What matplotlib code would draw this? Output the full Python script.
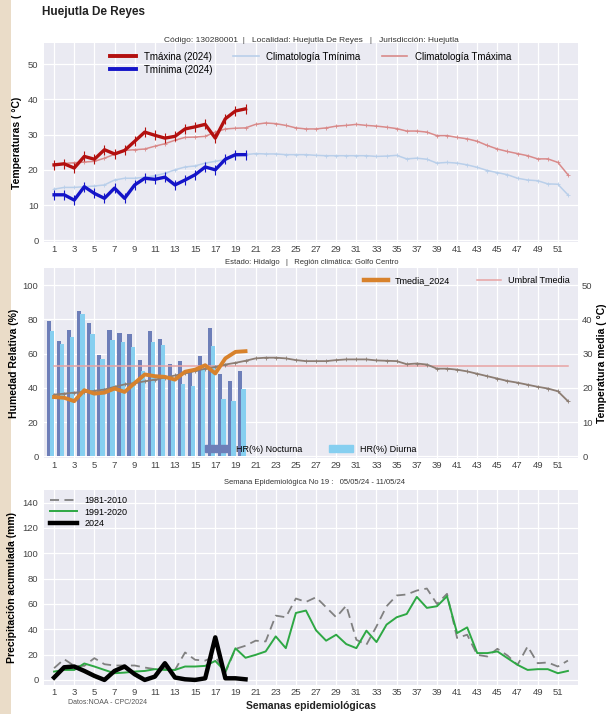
import matplotlib
matplotlib.use("Agg")
import matplotlib.pyplot as plt
from matplotlib.patches import Rectangle, Patch
from matplotlib.lines import Line2D
import numpy as np

plt.rcParams['font.family'] = ['Liberation Sans', 'DejaVu Sans']

weeks = list(range(1, 53))
weeks_2024 = list(range(1, 21))

# Temperatura máxima / mínima 2024 (°C)
tmax_2024 = [21.4, 21.7, 20.5, 23.8, 23.0, 25.7, 24.5, 25.5, 28.1, 30.7,
             29.8, 29.0, 29.5, 31.6, 32.2, 32.9, 29.0, 34.5, 36.7, 37.3]
tmin_2024 = [12.9, 12.9, 11.4, 15.2, 13.3, 11.9, 14.8, 11.9, 15.7, 17.6,
             17.3, 17.9, 15.7, 17.1, 18.6, 20.8, 20.0, 23.0, 24.3, 24.3]

# Climatología semanal
clim_tmax = [21.4, 21.8, 22.0, 22.2, 22.4, 23.3, 24.4, 25.5, 25.7, 25.9,
             26.7, 27.4, 28.4, 29.2, 29.3, 29.5, 30.7, 31.6, 31.8, 31.9,
             32.9, 33.3, 33.1, 32.6, 31.9, 31.6, 31.6, 31.9, 32.4, 32.6,
             32.9, 32.6, 32.4, 32.1, 31.7, 31.0, 31.0, 30.7, 29.7, 29.7,
             29.2, 28.8, 28.1, 26.9, 25.9, 25.2, 24.6, 24.0, 23.1, 23.1,
             22.1, 18.6]
clim_tmin = [14.5, 15.0, 15.0, 15.2, 15.4, 15.7, 17.1, 17.6, 17.6, 17.9,
             18.3, 19.0, 20.0, 20.8, 21.1, 21.9, 22.4, 22.9, 23.8, 24.3,
             24.6, 24.5, 24.5, 24.3, 24.3, 24.3, 24.1, 24.0, 24.0, 24.0,
             24.0, 24.0, 23.8, 23.9, 24.1, 23.1, 23.3, 23.0, 21.9, 22.1,
             21.9, 21.4, 20.7, 19.8, 19.2, 18.6, 17.6, 17.1, 16.9, 16.0,
             15.9, 12.9]

# Humedad relativa 2024 (%)
hr_nocturna = [78.9, 67.6, 73.5, 84.6, 78.0, 59.1, 73.9, 72.3, 71.3, 56.1,
               73.3, 68.4, 53.8, 55.9, 49.3, 58.5, 74.7, 48.0, 44.1, 49.7]
hr_diurna = [73.3, 65.7, 69.4, 83.0, 71.3, 57.1, 67.8, 66.9, 63.9, 50.0,
             66.5, 64.9, 45.0, 42.0, 40.9, 50.3, 64.7, 33.3, 32.4, 39.6]

# Temperatura media (°C)
tmedia_2024 = [17.3, 17.1, 16.1, 19.3, 18.3, 18.6, 19.8, 18.8, 21.4, 23.9,
               23.4, 23.2, 22.4, 24.7, 25.3, 26.6, 24.2, 28.6, 30.5, 30.7]
clim_tmedia = [18.0, 18.3, 18.6, 18.8, 19.1, 19.5, 20.3, 21.0, 21.4, 21.9,
               22.4, 23.0, 23.6, 24.2, 24.9, 25.6, 26.1, 26.8, 27.3, 27.9,
               28.6, 28.8, 28.8, 28.6, 28.1, 27.8, 27.8, 27.8, 28.1, 28.3,
               28.3, 28.3, 28.0, 27.9, 27.8, 26.9, 27.1, 26.8, 25.6, 25.6,
               25.3, 24.8, 24.1, 23.4, 22.7, 22.0, 21.5, 20.9, 20.3, 19.8,
               19.0, 16.1]
umbral_tmedia = 26.5

# Precipitación acumulada (mm)
prec_8110 = [9.3, 16.4, 11.1, 11.1, 17.2, 12.4, 11.4, 11.4, 11.4, 9.8,
             8.5, 9.3, 7.9, 21.7, 15.9, 15.3, 18.5, 5.8, 24.5, 27.0,
             31.0, 30.4, 50.8, 49.5, 64.3, 61.6, 65.3, 57.4, 49.5, 58.7,
             31.7, 27.8, 42.3, 58.2, 66.7, 67.5, 70.6, 72.2, 60.0, 68.0,
             33.1, 35.7, 19.8, 18.5, 24.6, 19.3, 11.9, 26.5, 13.2, 13.8,
             10.6, 15.3]
prec_9120 = [6.6, 7.9, 7.9, 13.0, 10.6, 7.9, 5.3, 5.8, 6.6, 7.1,
             8.5, 7.9, 7.9, 10.6, 10.6, 11.1, 15.0, 6.6, 25.0, 17.5,
             19.8, 22.5, 34.4, 25.1, 52.9, 54.8, 39.2, 31.0, 35.7, 28.3,
             25.1, 38.9, 29.9, 43.7, 49.5, 52.1, 65.6, 56.9, 58.2, 66.1,
             37.0, 41.5, 21.2, 21.2, 22.5, 17.2, 11.9, 7.9, 8.5, 8.5,
             5.3, 7.1]
prec_2024 = [1.9, 10.0, 10.6, 7.1, 3.2, 0.0, 7.1, 10.6, 4.5, 0.0,
             2.6, 13.2, 1.9, 0.5, 0.0, 1.3, 33.6, 1.3, 1.3, 0.5]

xticks = list(range(1, 53, 2))

W, H = 608, 714
fig = plt.figure(figsize=(W / 100, H / 100), dpi=100, facecolor='white')

# parchment strip on the left edge
fig.patches.append(Rectangle((0, 0), 11 / W, 1, transform=fig.transFigure,
                             facecolor='#eadcc8', edgecolor='none', zorder=-5))

BG = '#eaeaf2'
TICKC = '#444444'


def style_axes(ax):
    ax.set_facecolor(BG)
    for s in ax.spines.values():
        s.set_visible(False)
    ax.grid(True, color='white', linewidth=0.9)
    ax.set_axisbelow(True)
    ax.tick_params(axis='y', length=0, labelsize=6.8, colors=TICKC, pad=4)
    ax.tick_params(axis='x', length=0, labelsize=6.8, colors=TICKC, pad=2)
    ax.set_xlim(0, 53)
    ax.set_xticks(xticks)
    ax.set_xticklabels([str(t) for t in xticks])


def ax_rect(x0, y0, x1, y1):
    return [x0 / W, 1 - y1 / H, (x1 - x0) / W, (y1 - y0) / H]


# ---------------- Temperaturas ----------------
ax1 = fig.add_axes(ax_rect(44, 43, 578, 242))
style_axes(ax1)
ax1.plot(weeks, clim_tmin, color='#b9cfea', lw=1.1, marker='+', ms=3, mew=0.6,
         zorder=2)
ax1.plot(weeks, clim_tmax, color='#d98a8a', lw=1.1, marker='+', ms=3, mew=0.6,
         zorder=2)
ax1.plot(weeks_2024, tmax_2024, color='#b3100f', lw=2.4, marker='|', ms=7, mew=0.8,
         zorder=3)
ax1.plot(weeks_2024, tmin_2024, color='#1414c8', lw=2.4, marker='|', ms=7, mew=0.8,
         zorder=3)
ax1.set_ylim(-0.5, 56)
ax1.set_yticks([0, 10, 20, 30, 40, 50])
ax1.set_ylabel('Temperaturas ( °C)', fontsize=7.5, fontweight='bold', labelpad=4)
h1 = [
    Line2D([], [], color='#b3100f', lw=2.8),
    Line2D([], [], color='#1414c8', lw=2.8),
    Line2D([], [], color='#b9cfea', lw=1.2),
    Line2D([], [], color='#d98a8a', lw=1.2),
]
l1 = ['Tmáxina (2024)', 'Tmínima (2024)', 'Climatología Tmínima', 'Climatología Tmáxima']
ax1.legend(h1, l1, ncol=3, loc='upper center', bbox_to_anchor=(0.5, 1.0),
           frameon=False, fontsize=7, handlelength=2.6, columnspacing=2.2,
           labelspacing=0.3)

# ---------------- Humedad relativa / Tmedia ----------------
ax2 = fig.add_axes(ax_rect(44, 268, 578, 458))
style_axes(ax2)
wk = np.array(weeks_2024)
ax2.bar(wk - 0.72, hr_nocturna, width=0.42, align='edge', color='#6d7eb8',
        zorder=2)
ax2.bar(wk - 0.40, hr_diurna, width=0.42, align='edge', color='#86cff0',
        zorder=2)
ax2.set_ylim(-1, 110)
ax2.set_yticks([0, 20, 40, 60, 80, 100])
ax2.set_ylabel('Humedad Relativa (%)', fontsize=7.5, fontweight='bold', labelpad=3)
ax2.legend([Patch(color='#6d7eb8'), Patch(color='#86cff0')],
           ['HR(%) Nocturna', 'HR(%) Diurna'], ncol=2, loc='lower center',
           bbox_to_anchor=(0.5, -0.02), frameon=False, fontsize=6.5,
           handlelength=2.6, columnspacing=3.0)

ax2r = ax2.twinx()
ax2r.set_xlim(0, 53)
for s in ax2r.spines.values():
    s.set_visible(False)
ax2r.grid(False)
ax2r.tick_params(length=0, labelsize=6.8, colors=TICKC, pad=3)
ax2r.plot(weeks, [umbral_tmedia] * len(weeks), color='#e8a3a3', lw=1.1, zorder=2)
ax2r.plot(weeks, clim_tmedia, color='#8c7d73', lw=1.3, marker='+', ms=3, mew=0.6,
          zorder=3)
ax2r.plot(weeks_2024, tmedia_2024, color='#d8822c', lw=2.8, zorder=4)
ax2r.set_ylim(-0.5, 55)
ax2r.set_yticks([0, 10, 20, 30, 40, 50])
ax2r.set_ylabel('Temperatura media ( °C)', fontsize=7.5, fontweight='bold',
                labelpad=3)
ax2r.legend([Line2D([], [], color='#d8822c', lw=3.2),
             Line2D([], [], color='#e8a3a3', lw=1.1)],
            ['Tmedia_2024', 'Umbral Tmedia'], ncol=2, loc='upper right',
            frameon=False, fontsize=6.5, handlelength=2.6, columnspacing=3.0)

# ---------------- Precipitación ----------------
ax3 = fig.add_axes(ax_rect(44, 490, 578, 685))
style_axes(ax3)
ax3.plot(weeks, prec_8110, color='#808080', lw=1.3, ls=(0, (5, 3)), label='1981-2010')
ax3.plot(weeks, prec_9120, color='#2ea844', lw=1.4, label='1991-2020')
ax3.plot(weeks_2024, prec_2024, color='black', lw=3.2, label='2024')
ax3.set_ylim(-4, 150)
ax3.set_yticks([0, 20, 40, 60, 80, 100, 120, 140])
ax3.set_ylabel('Precipitación acumulada (mm)', fontsize=7.5, fontweight='bold',
               labelpad=4)
ax3.legend(loc='upper left', frameon=False, fontsize=6.5, handlelength=3.0,
           labelspacing=0.25, borderaxespad=0.3)

# ---------------- Textos ----------------
fig.text(42 / W, 1 - 12 / H, 'Huejutla De Reyes', fontsize=8.5, fontweight='bold',
         va='center', ha='left', color='#222222')
fig.text(311 / W, 1 - 40 / H,
         'Código: 130280001  |   Localidad: Huejutla De Reyes   |   Jurisdicción: Huejutla',
         fontsize=6, ha='center', va='center', color='#333333')
fig.text(312 / W, 1 - 263 / H,
         'Estado: Hidalgo   |   Región climática: Golfo Centro',
         fontsize=5.5, ha='center', va='center', color='#333333')
fig.text(315 / W, 1 - 483 / H,
         'Semana Epidemiológica No 19 :   05/05/24 - 11/05/24',
         fontsize=5.5, ha='center', va='center', color='#333333')
fig.text(68 / W, 1 - 702 / H, 'Datos:NOAA - CPC/2024', fontsize=5,
         ha='left', va='center', color='#555555')
fig.text(311 / W, 1 - 706 / H, 'Semanas epidemiológicas', fontsize=7.5,
         fontweight='bold', ha='center', va='center', color='#222222')

fig.savefig('out.png', dpi=100, facecolor='white')
